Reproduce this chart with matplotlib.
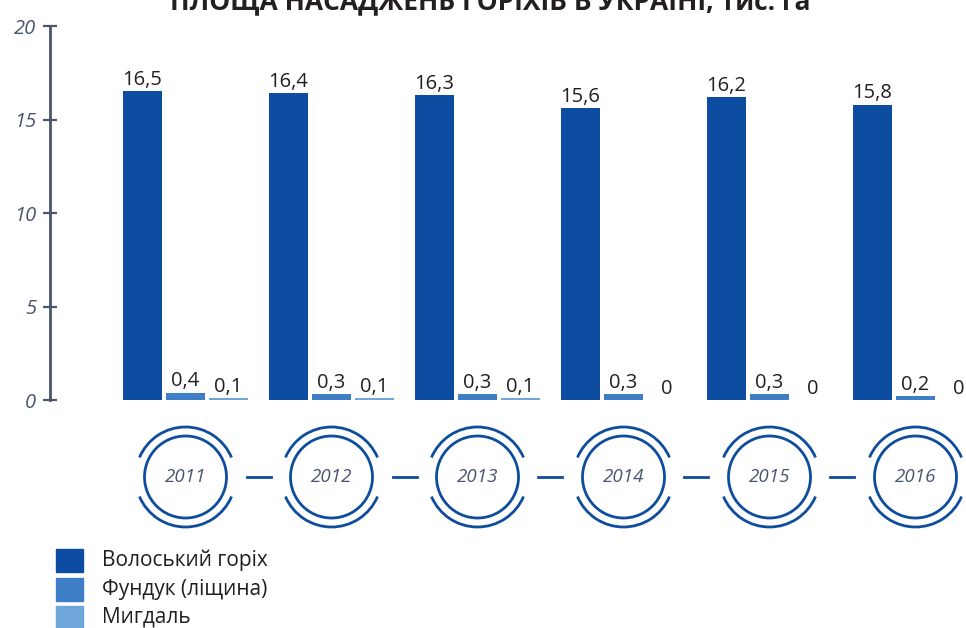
import matplotlib
matplotlib.use("Agg")
import matplotlib.pyplot as plt
from matplotlib.patches import Circle, Arc, Rectangle
import numpy as np

plt.rcParams['font.family'] = ['Open Sans', 'DejaVu Sans']

years = ['2011', '2012', '2013', '2014', '2015', '2016']
walnut = [16.5, 16.4, 16.3, 15.6, 16.2, 15.8]
hazel = [0.4, 0.3, 0.3, 0.3, 0.3, 0.2]
almond = [0.1, 0.1, 0.1, 0.0, 0.0, 0.0]
series_names = ['Волоський горіх', 'Фундук (ліщина)', 'Мигдаль']
title = 'ПЛОЩА НАСАДЖЕНЬ ГОРІХІВ В УКРАЇНІ, тис. га'
yticks = [0, 5, 10, 15, 20]

c_walnut = '#0C4DA2'
c_hazel = '#3D7EC6'
c_almond = '#6FA6DA'
c_circle = '#0E4C9E'
c_axis = '#4A5570'
c_text = '#231F20'

W, H = 966, 628
fig = plt.figure(figsize=(W / 100, H / 100), dpi=100)

# main axes: x px 50..966, y px (top) 26..400
ax = fig.add_axes([50 / W, (H - 400) / H, (W - 50) / W, (400 - 26) / H])
ax.set_ylim(0, 20)
unit = 146.0
xmin = -(185.5 - 50) / unit
ax.set_xlim(xmin, xmin + (W - 50) / unit)

x = np.arange(len(years))
bw = 39 / unit
off = 43 / unit
colors = [c_walnut, c_hazel, c_almond]
data = [walnut, hazel, almond]
for k, (vals, col) in enumerate(zip(data, colors)):
    xs = x + (k - 1) * off
    ax.bar(xs, vals, width=bw, color=col, zorder=2)
    for xi, v in zip(xs, vals):
        lab = ('%g' % v).replace('.', ',')
        ax.annotate(lab, (xi, v), xytext=(0, 1), textcoords='offset points',
                    ha='center', va='bottom', fontsize=14.5, color=c_text)

for s in ['top', 'right', 'bottom']:
    ax.spines[s].set_visible(False)
ax.spines['left'].set_color(c_axis)
ax.spines['left'].set_linewidth(2)
ax.set_xticks([])
ax.set_yticks(yticks)
ax.set_yticklabels([str(t) for t in yticks], fontstyle='italic', fontsize=14.5, color=c_axis)
ax.tick_params(axis='y', direction='inout', length=10, width=1.6, color=c_axis, pad=5)
ax.patch.set_alpha(0)

# overlay axes in pixel coords
ov = fig.add_axes([0, 0, 1, 1], zorder=-1)
ov.set_xlim(0, W)
ov.set_ylim(0, H)
ov.axis('off')
fig.canvas.draw()

cy = H - 477
r_in, r_out = 41, 50
centers = []
for i in range(len(years)):
    px, _ = ax.transData.transform((x[i], 0))
    centers.append(px)
    ov.add_patch(Circle((px, cy), r_in, fill=False, ec=c_circle, lw=2.0))
    ov.add_patch(Arc((px, cy), 2 * r_out, 2 * r_out, theta1=23, theta2=157, ec=c_circle, lw=2.0))
    ov.add_patch(Arc((px, cy), 2 * r_out, 2 * r_out, theta1=203, theta2=337, ec=c_circle, lw=2.0))
    ov.text(px, cy, years[i], ha='center', va='center', fontsize=13.5,
            fontstyle='italic', color=c_axis)
for a, b in zip(centers[:-1], centers[1:]):
    m = (a + b) / 2
    ov.plot([m - 12, m + 12], [cy, cy], color=c_circle, lw=2.0)

# legend
rows = [560, 589, 617]
for name, col, ry in zip(series_names, colors, rows):
    ov.add_patch(Rectangle((56, H - ry - 11.5), 27, 23, color=col))
    ov.text(102, H - ry, name, ha='left', va='center', fontsize=15, color=c_text)

# title (clipped at the top like reference)
ov.text(490, H - 10, title, ha='center', va='baseline', fontsize=19,
        fontweight='bold', color=c_text)

fig.savefig('out.png', dpi=100)
